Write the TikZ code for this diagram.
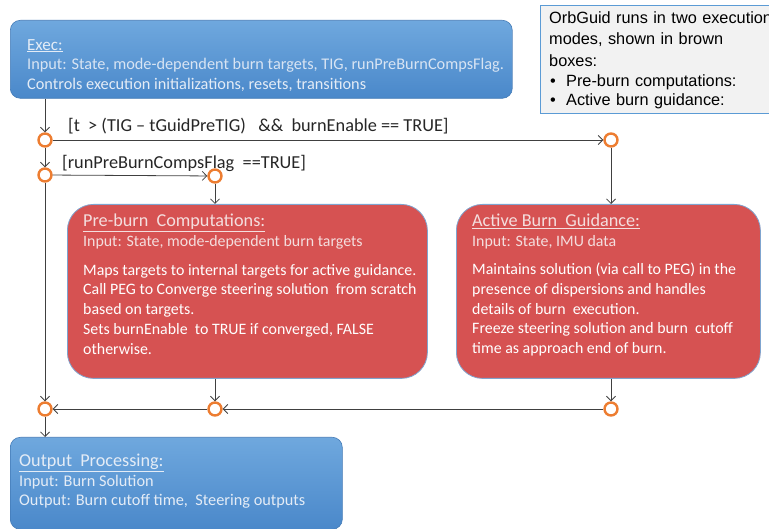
\documentclass[tikz,border=0pt]{standalone}
\usepackage{fontspec}
\setmainfont{Carlito}
\newfontfamily\notefont{Liberation Sans}
\usetikzlibrary{arrows.meta,shapes.geometric}
\definecolor{bluetop}{HTML}{6FA8DE}
\definecolor{bluebot}{HTML}{4A88CA}
\definecolor{redbox}{HTML}{D65252}
\definecolor{redline}{HTML}{7FA4CF}
\definecolor{orng}{HTML}{ED7D31}
\definecolor{linec}{HTML}{404040}
\definecolor{notefill}{HTML}{F2F2F2}
\definecolor{noteline}{HTML}{5B9BD5}
\definecolor{lighttxt}{HTML}{E4ECF6}
\definecolor{pinktxt}{HTML}{F4DEDE}
\tikzset{
  bluebox/.style={draw=bluebot!90!black, line width=0.6pt, rounded corners=10pt, top color=bluetop, bottom color=bluebot, anchor=north west, inner sep=0pt},
  redbx/.style={draw=redline, line width=0.8pt, fill=redbox, rounded corners=26pt, anchor=north west, inner sep=0pt},
  junc/.style={circle, draw=orng, line width=2.4pt, fill=white, minimum size=13pt, inner sep=0pt},
  arr/.style={draw=linec, line width=0.8pt, -{Straight Barb[length=4.5pt,width=9pt]}},
  txt/.style={anchor=north west, inner sep=0pt, align=left, font=\fontsize{16.3}{19.5}\selectfont},
  stxt/.style={anchor=north west, inner sep=0pt, align=left, font=\fontsize{15.9}{19.7}\selectfont},
  lbl/.style={anchor=west, inner sep=0pt, text=black!85, font=\fontsize{18.3}{20}\selectfont},
}
\begin{document}
\begin{tikzpicture}[x=1pt,y=-1pt]
\useasboundingbox (0,0) rectangle (769,529);
\clip (0,0) rectangle (769,529);
% note box
\node[draw=noteline, line width=1.4pt, fill=notefill, anchor=north west, minimum width=250pt, minimum height=108pt, inner sep=0pt] (note) at (540,5) {};
\node[anchor=north west, inner sep=0pt, align=left, text width=260pt, font=\notefont\fontsize{16.3}{21.8}\selectfont] (notetxt) at (549,11)
 {OrbGuid runs in two execution\\modes, shown in brown\\boxes:\\[-2pt]
 \makebox[17pt][l]{\hspace{1pt}\textbullet}Pre-burn computations:\\[-2.5pt]
 \makebox[17pt][l]{\hspace{1pt}\textbullet}Active burn guidance:};
% Exec box
\node[bluebox, minimum width=502pt, minimum height=78pt] (exec) at (10,20) {};
\node[txt, text=lighttxt] (exectxt) at (27,39)
 {\fontsize{17}{19.5}\selectfont\underline{Exec:}\\\fontsize{16.3}{19.5}\selectfont \color{lighttxt!92!bluebot}Input: State, mode-dependent burn targets, TIG, runPreBurnCompsFlag.\\ Controls execution initializations, resets, transitions};
% junctions
\node[junc] (A) at (45,140) {};
\node[junc] (B) at (45,175) {};
\node[junc] (C) at (215,176) {};
\node[junc] (D) at (611,140) {};
\node[junc] (E) at (45,409) {};
\node[junc] (F) at (215,409) {};
\node[junc] (G) at (611,409) {};
% red boxes
\node[redbx, minimum width=360pt, minimum height=174pt] (pre) at (67,204) {};
\node[stxt, text=pinktxt] (pretitle) at (83,214)
 {\fontsize{18.2}{20}\selectfont\underline{Pre-burn\ \ Computations:}\\\fontsize{15.9}{20}\selectfont Input: State, mode-dependent burn targets};
\node[stxt, text=white] (prebody) at (83,264)
 {Maps targets to internal targets for active guidance.\\
  Call PEG to Converge steering solution \ from scratch\\
  based on targets.\\
  Sets burnEnable \ to TRUE if converged, FALSE\\
  otherwise.};
\node[redbx, minimum width=304pt, minimum height=174pt] (act) at (456,204) {};
\node[stxt, text=pinktxt] (acttitle) at (472,214)
 {\fontsize{18.2}{20}\selectfont\underline{Active Burn\ \ Guidance:}\\\fontsize{15.9}{20}\selectfont Input: State, IMU data};
\node[stxt, text=white] (actbody) at (472,263)
 {Maintains solution (via call to PEG) in the\\
  presence of dispersions and handles\\
  details of burn \ execution.\\
  Freeze steering solution and burn \ cutoff\\
  time as approach end of burn.};
% output box
\node[bluebox, minimum width=332pt, minimum height=92pt] (out) at (10,437) {};
\node[txt, text=lighttxt] (outtxt) at (19,454)
 {\fontsize{18.2}{19.5}\selectfont\underline{Output\ \ Processing:}\\\fontsize{16.3}{19.5}\selectfont Input: Burn Solution\\ Output: Burn cutoff time, \ Steering outputs};
% labels
\node[lbl] (l1) at (68,126) {[t \ > (TIG -- tGuidPreTIG) \ \ \&\& \ burnEnable == TRUE]};
\node[lbl] (l2) at (62,163) {[runPreBurnCompsFlag \ ==TRUE]};
% connectors
\draw[arr] (exec.south -| A) -- (A);
\draw[arr] (A) -- (D);
\draw[arr] (A) -- (B);
\draw[arr] (B) -- (C);
\draw[arr] (B) -- (E);
\draw[arr] (C) -- (C |- pre.north);
\draw[arr] (D) -- (D |- act.north);
\draw[arr] (pre.south -| F) -- (F);
\draw[arr] (act.south -| G) -- (G);
\draw[arr] (G) -- (F);
\draw[arr] (F) -- (E);
\draw[arr] (E) -- (E |- out.north);
\end{tikzpicture}
\end{document}
